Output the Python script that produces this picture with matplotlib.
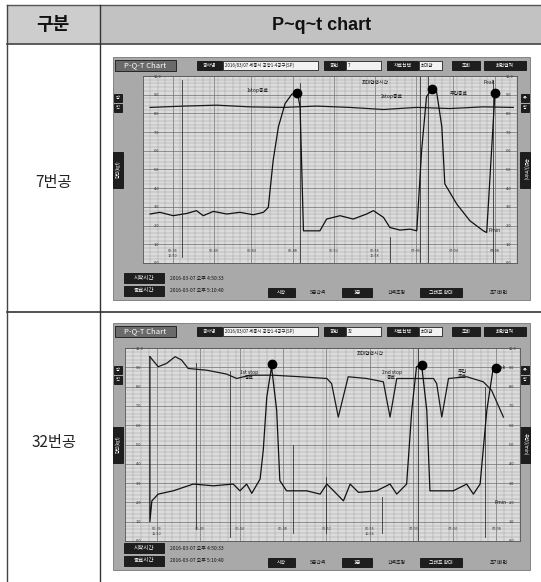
import matplotlib.pyplot as plt
from matplotlib.patches import Rectangle

plt.rcParams['font.family'] = ['Noto Sans CJK KR', 'DejaVu Sans']

W, H = 541, 582

# table text
header = ['구분', 'P~q~t chart']
holes = ['7번공', '32번공']

# --- 7번공 : time (min) vs value (%) ---
t1_p = [1.9, 10.8, 19.7, 28.6, 37.5, 46.4, 55.3, 64.3, 73.2, 82.1, 91.0, 99.0]
v1_p = [83.2, 83.9, 84.4, 83.5, 83.2, 83.9, 83.2, 82.1, 83.2, 82.6, 83.5, 83.2]
t1_q = [1.9, 4.5, 8.1, 11.7, 14.3, 16.1, 18.8, 22.4, 25.9, 29.5, 32.2, 33.5, 34.8, 36.2,
        38.0, 39.8, 41.3, 42.0, 42.9, 47.3, 49.1, 52.7, 56.2, 59.8, 61.6, 64.3, 66.0,
        68.7, 71.4, 73.2, 74.5, 75.8, 77.2, 78.5, 79.9, 80.7, 83.9, 87.4, 91.0, 91.9,
        93.2, 94.1]
v1_q = [26.2, 27.1, 25.3, 26.5, 28.0, 25.3, 27.6, 26.2, 27.1, 25.8, 27.1, 29.7, 54.8, 72.8,
        85.3, 90.3, 91.0, 83.5, 17.2, 17.2, 23.5, 25.3, 23.5, 26.2, 28.0, 24.4, 19.0,
        17.6, 18.1, 17.2, 60.2, 88.9, 92.8, 91.6, 72.8, 42.3, 31.5, 22.6, 17.2, 16.3,
        60.2, 90.7]
peaks1 = [(41.3, 91.0), (77.2, 92.8), (94.1, 90.7)]
events1 = [(10.3, 3, 98), (42.0, 0, 96), (66.0, 0, 14), (74.1, 0, 100), (76.3, 0, 100), (93.7, 0, 98)]
notes1 = [(30.5, 92.5, '1stop종료'), (66.5, 89.0, '2stop종료'), (84.5, 90.5, '주입종료'),
          (62.0, 96.5, '최대압력시간'), (92.5, 96.5, 'Peak'), (94.0, 17.5, 'Pmin')]

# --- 32번공 ---
t2_p = [6.3, 8.4, 10.5, 12.7, 14.3, 16.0, 20.7, 25.7, 28.3, 31.6, 37.6, 44.3, 51.1, 52.3,
        54.0, 56.5, 61.2, 65.4, 67.1, 68.8, 73.8, 78.1, 78.9, 80.2, 81.9, 86.5, 90.7,
        92.8, 95.8]
v2_p = [95.5, 90.3, 92.0, 95.5, 93.8, 89.4, 88.5, 86.5, 84.2, 85.9, 85.9, 85.1, 84.2, 81.6,
        64.2, 85.1, 84.2, 82.5, 64.2, 84.2, 84.2, 84.2, 81.6, 64.2, 84.2, 85.1, 82.5,
        78.1, 64.2]
t2_q = [6.3, 6.3, 6.8, 8.4, 12.2, 17.3, 22.4, 27.4, 29.1, 30.8, 32.1, 34.2, 35.0, 35.9,
        37.1, 38.4, 39.2, 40.9, 46.0, 49.4, 51.1, 53.2, 55.3, 57.0, 59.1, 63.7, 67.1,
        68.8, 71.3, 72.6, 73.8, 75.1, 76.4, 77.2, 83.1, 86.5, 88.2, 89.9, 91.6, 93.2]
v2_q = [95.5, 10.0, 20.8, 24.3, 26.0, 29.5, 28.6, 29.5, 26.0, 29.5, 24.7, 32.1, 46.9, 74.7,
        90.3, 67.7, 31.3, 26.0, 26.0, 24.3, 29.5, 25.2, 20.8, 29.5, 25.2, 26.0, 29.5,
        24.3, 29.5, 67.7, 90.3, 91.1, 67.7, 26.0, 26.0, 29.5, 24.3, 29.5, 67.7, 89.4]
peaks2 = [(37.1, 91.5), (75.1, 91.1), (94.0, 89.5)]
events2 = [(18.1, 6, 92), (26.5, 2, 88), (42.6, 4, 50), (50.8, 4, 33), (65.1, 4, 23),
           (74.1, 0, 100), (91.2, 2, 80)]
notes2 = [(31.5, 86.0, '1st stop\n종료'), (67.5, 86.0, '2nd stop\n종료'),
          (85.5, 86.5, '주입\n종료'), (62.0, 97.0, '최대압력시간'), (95.0, 90.0, 'Peak'),
          (95.0, 20.0, 'Pmin')]

xticks = [8, 19, 29, 40, 51, 62, 73, 83, 94]
xlabels = ['06:36\n16:50', '06:40', '06:44', '06:48', '06:52', '06:56\n16:58', '07:00', '07:04', '07:08']
yticks = [0, 10, 20, 30, 40, 50, 60, 70, 80, 90, 100]


def frac(x0, y0, x1, y1):
    return [x0 / W, 1 - y1 / H, (x1 - x0) / W, (y1 - y0) / H]


fig = plt.figure(figsize=(W / 100, H / 100), dpi=100)
fig.patch.set_facecolor('white')
base = fig.add_axes([0, 0, 1, 1])
base.set_xlim(0, W)
base.set_ylim(H, 0)
base.axis('off')

# table frame
base.add_patch(Rectangle((7, 5), 534, 39, facecolor='#c2c2c2', edgecolor='none'))
base.add_patch(Rectangle((7, 5), 93, 39, facecolor='#cdcdcd', edgecolor='none'))
base.plot([7, 541], [5, 5], color='#555555', lw=1)
base.plot([7, 541], [44, 44], color='#444444', lw=1.2)
base.plot([7, 541], [312, 312], color='#333333', lw=1.2)
base.plot([7, 7], [5, 582], color='#444444', lw=1)
base.plot([100, 100], [5, 582], color='#333333', lw=1)
base.text(53, 25, header[0], ha='center', va='center', fontsize=13, fontweight='bold', color='#111111')
base.text(322, 25, header[1], ha='center', va='center', fontsize=13, fontweight='bold', color='#111111',
          family=['Liberation Sans', 'DejaVu Sans'])
base.text(54, 182, holes[0], ha='center', va='center', fontsize=11, color='#222222')
base.text(54, 442, holes[1], ha='center', va='center', fontsize=11, color='#222222')


def dark_box(x0, y0, x1, y1, label, fs=3.5):
    base.add_patch(Rectangle((x0, y0), x1 - x0, y1 - y0, facecolor='#1e1e1e', edgecolor='#000000', lw=0.5))
    base.text((x0 + x1) / 2, (y0 + y1) / 2, label, ha='center', va='center', fontsize=fs, color='white')


def white_box(x0, y0, x1, y1, label, fs=3.2):
    base.add_patch(Rectangle((x0, y0), x1 - x0, y1 - y0, facecolor='#f2f2f2', edgecolor='#000000', lw=0.5))
    base.text(x0 + 2, (y0 + y1) / 2, label, ha='left', va='center', fontsize=fs, color='#111111')


def panel(top, bot, plot_box, tp, vp, tq, vq, peaks, events, notes, hole_no):
    # screenshot frame
    base.add_patch(Rectangle((113, top), 417, bot - top, facecolor='#a9a9a9', edgecolor='#777777', lw=0.6))
    # title bar
    ty0, ty1 = top + 3, top + 14
    dark_box(115, ty0, 176, ty1, 'P-Q-T Chart', fs=5.5)
    base.patches[-1].set_facecolor('#6a6a6a')
    dark_box(197, ty0 + 1, 222, ty1 - 1, '공사명')
    white_box(223, ty0 + 1, 318, ty1 - 1, '2016/03/07 세종시 공장1-4공구(SP)')
    dark_box(324, ty0 + 1, 345, ty1 - 1, '공번')
    white_box(346, ty0 + 1, 381, ty1 - 1, hole_no)
    dark_box(387, ty0 + 1, 418, ty1 - 1, '자료선택')
    white_box(419, ty0 + 1, 442, ty1 - 1, '최대값')
    dark_box(452, ty0 + 1, 480, ty1 - 1, '조회')
    dark_box(484, ty0 + 1, 526, ty1 - 1, '화면캡쳐')
    # side labels
    px0, py0, px1, py1 = plot_box
    mid = (py0 + py1) / 2
    dark_box(113, mid - 18, 123, mid + 18, '')
    base.text(118, mid, '압력(kgf)', rotation=90, ha='center', va='center', fontsize=3.2, color='white')
    dark_box(520, mid - 18, 530, mid + 18, '')
    base.text(525, mid, '유량(l/min)', rotation=270, ha='center', va='center', fontsize=3.2, color='white')
    dark_box(114, py0 + 18, 122, py0 + 26, '압', fs=3)
    dark_box(114, py0 + 28, 122, py0 + 36, '력', fs=3)
    dark_box(521, py0 + 18, 529, py0 + 26, '유', fs=3)
    dark_box(521, py0 + 28, 529, py0 + 36, '량', fs=3)
    # bottom bar
    by = bot - 27
    dark_box(124, by, 164, by + 10, '시작시간', fs=4)
    base.text(170, by + 5, '2016-03-07 오후 4:50:33', ha='left', va='center', fontsize=3.6, color='#111111')
    dark_box(124, by + 13, 164, by + 23, '종료시간', fs=4)
    base.text(170, by + 18, '2016-03-07 오후 5:10:40', ha='left', va='center', fontsize=3.6, color='#111111')
    dark_box(268, by + 15, 295, by + 24, '시작', fs=3.5)
    base.text(310, by + 19, '5분간격', ha='left', va='center', fontsize=3.5, color='#111111')
    dark_box(342, by + 15, 372, by + 24, '1분', fs=3.5)
    base.text(388, by + 19, '간격조정', ha='left', va='center', fontsize=3.5, color='#111111')
    dark_box(420, by + 15, 462, by + 24, '그래프 확대', fs=3.5)
    base.text(490, by + 19, '초기화면', ha='left', va='center', fontsize=3.5, color='#111111')

    ax = fig.add_axes(frac(px0, py0, px1, py1))
    ax.set_facecolor('#dcdcdc')
    ax.set_xlim(0, 100)
    ax.set_ylim(0, 100)
    ax.set_xticks(range(0, 101, 2), minor=True)
    ax.set_yticks(range(0, 101, 2), minor=True)
    ax.set_xticks(xticks)
    ax.set_xticklabels(xlabels)
    ax.set_yticks(yticks)
    ax.set_yticklabels([f'{v / 10:.1f}' for v in yticks])
    ax.grid(which='minor', color='#a0a0a0', lw=0.35)
    ax.grid(which='major', color='#6e6e6e', lw=0.5)
    ax.tick_params(which='both', length=0, labelsize=2.8, pad=-6, colors='#222222')
    ax.tick_params(axis='x', pad=-10)
    ax.tick_params(axis='y', labelright=True, pad=-8)
    for tl in ax.get_yticklabels():
        tl.set_horizontalalignment('left')
    for s in ax.spines.values():
        s.set_color('#555555')
        s.set_linewidth(0.6)
    for x, y0, y1 in events:
        ax.plot([x, x], [y0, y1], color='#333333', lw=0.6)
    ax.plot(tp, vp, color='#1a1a1a', lw=0.9)
    ax.plot(tq, vq, color='#111111', lw=0.9)
    ax.plot([p[0] for p in peaks], [p[1] for p in peaks], 'o', color='#000000', ms=6)
    for x, y, s in notes:
        ax.text(x, y, s, fontsize=3.5, ha='center', va='center', color='#111111', linespacing=0.9)
    return ax


panel(57, 300, (143, 76, 517, 263), t1_p, v1_p, t1_q, v1_q, peaks1, events1, notes1, '7')
panel(323, 570, (125, 348, 520, 541), t2_p, v2_p, t2_q, v2_q, peaks2, events2, notes2, '32')

fig.savefig('out.png', dpi=100)
